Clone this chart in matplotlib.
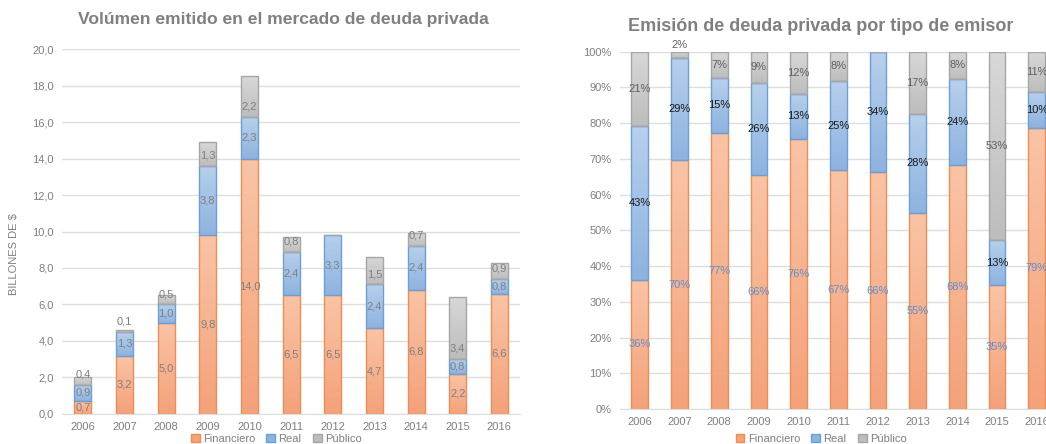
import matplotlib
matplotlib.use('Agg')
import matplotlib.pyplot as plt
import numpy as np
from matplotlib.colors import LinearSegmentedColormap
from matplotlib.patches import Patch

plt.rcParams['font.family'] = ['Liberation Sans', 'DejaVu Sans']

years = ["2006", "2007", "2008", "2009", "2010", "2011", "2012", "2013", "2014", "2015", "2016"]

# volumen en billones de $
financiero = [0.7, 3.2, 5.0, 9.8, 14.0, 6.5, 6.5, 4.7, 6.8, 2.2, 6.6]
real = [0.9, 1.3, 1.0, 3.8, 2.3, 2.4, 3.3, 2.4, 2.4, 0.8, 0.8]
publico = [0.4, 0.1, 0.5, 1.3, 2.2, 0.8, 0.0, 1.5, 0.7, 3.4, 0.9]

# participacion por tipo de emisor (%)
fin_pct = [36.2, 69.6, 77.3, 65.6, 75.6, 66.8, 66.3, 54.9, 68.4, 34.6, 78.7]
real_pct = [42.9, 28.7, 15.4, 25.7, 12.6, 25.1, 33.7, 27.8, 24.0, 12.8, 10.1]
pub_pct = [20.9, 1.7, 7.3, 8.7, 11.8, 8.1, 0.0, 17.3, 7.6, 52.6, 11.2]

series = ["Financiero", "Real", "Público"]
grad = {
    "Financiero": ("#f9c4a6", "#f4a27a", "#f08c55"),
    "Real": ("#b7d0ec", "#8eb3e0", "#6a9fd8"),
    "Público": ("#d8d8d8", "#bdbdbd", "#a6a6a6"),
}
grid_c = "#dedede"
text_c = "#7f7f7f"


def gradient_bars(ax, x, vals, bottom, name, width):
    top_c, bot_c, edge_c = grad[name]
    cmap = LinearSegmentedColormap.from_list(name, [bot_c, top_c])
    bars = ax.bar(x, vals, width=width, bottom=bottom, facecolor="none",
                  edgecolor=edge_c, linewidth=1.0, zorder=3)
    g = np.linspace(0, 1, 64).reshape(-1, 1)
    for r in bars:
        if r.get_height() <= 0:
            continue
        im = ax.imshow(g, cmap=cmap, origin="lower", aspect="auto",
                       extent=[r.get_x(), r.get_x() + r.get_width(),
                               r.get_y(), r.get_y() + r.get_height()],
                       zorder=2, interpolation="bilinear")
        im.set_clip_path(r)
    return bars


fig = plt.figure(figsize=(10.46, 4.44), dpi=100)

# ---- panel izquierdo
ax1 = fig.add_axes([0.0593, 0.0676, 0.438, 0.822])
x = np.arange(len(years))
w = 0.41
b1 = np.array(financiero)
b2 = b1 + np.array(real)
gradient_bars(ax1, x, financiero, 0, "Financiero", w)
gradient_bars(ax1, x, real, b1, "Real", w)
gradient_bars(ax1, x, publico, b2, "Público", w)

for i in x:
    ax1.text(i, financiero[i] / 2, f"{financiero[i]:.1f}".replace(".", ","),
             ha="center", va="center", fontsize=8, color=text_c, zorder=5)
    ax1.text(i, b1[i] + real[i] / 2, f"{real[i]:.1f}".replace(".", ","),
             ha="center", va="center", fontsize=8, color=text_c, zorder=5)
    if publico[i] > 0:
        ax1.text(i, b2[i] + 0.57, f"{publico[i]:.1f}".replace(".", ","),
                 ha="center", va="center", fontsize=8, color=text_c, zorder=5)

ax1.set_xlim(-0.5, len(years) - 0.5)
ax1.set_ylim(0, 20)
ax1.set_yticks(np.arange(0, 21, 2))
ax1.set_yticklabels([f"{v:.1f}".replace(".", ",") for v in np.arange(0, 21, 2)])
ax1.set_xticks(x)
ax1.set_xticklabels(years)
ax1.set_ylabel("BILLONES DE $", fontsize=8, color=text_c,
               family=['Liberation Sans Narrow', 'Liberation Sans'])
ax1.yaxis.set_label_coords(-0.095, 0.438)
ax1.set_title("Volúmen emitido en el mercado de deuda privada", fontsize=12.6,
              fontweight="bold", color="#808080", pad=18, x=0.483)

# ---- panel derecho
ax2 = fig.add_axes([0.5927, 0.0788, 0.4175, 0.8047])
w2 = 0.42
p1 = np.array(fin_pct)
p2 = p1 + np.array(real_pct)
gradient_bars(ax2, x, fin_pct, 0, "Financiero", w2)
gradient_bars(ax2, x, real_pct, p1, "Real", w2)
gradient_bars(ax2, x, pub_pct, p2, "Público", w2)

for i in x:
    ax2.text(i, fin_pct[i] / 2, f"{fin_pct[i]:.0f}%", ha="center", va="center",
             fontsize=8, color="#5b8fd0", zorder=5)
    ax2.text(i, p1[i] + real_pct[i] / 2, f"{real_pct[i]:.0f}%", ha="center",
             va="center", fontsize=8, color="#1a1a1a", zorder=5)
    if pub_pct[i] > 0:
        yy = p2[i] + pub_pct[i] / 2 if pub_pct[i] > 4 else 101.8
        ax2.text(i, yy, f"{pub_pct[i]:.0f}%", ha="center", va="center",
                 fontsize=8, color="#606060", zorder=5, clip_on=False)

ax2.set_xlim(-0.5, len(years) - 0.5)
ax2.set_ylim(0, 100)
ax2.set_yticks(np.arange(0, 101, 10))
ax2.set_yticklabels([f"{v}%" for v in range(0, 101, 10)])
ax2.set_xticks(x)
ax2.set_xticklabels(years)
ax2.set_title("Emisión de deuda privada por tipo de emisor", fontsize=13,
              fontweight="bold", color="#808080", pad=15, x=0.46)

for ax in (ax1, ax2):
    for s in ("top", "right", "left"):
        ax.spines[s].set_visible(False)
    ax.spines["bottom"].set_color(grid_c)
    ax.tick_params(length=0, labelsize=8, labelcolor=text_c, pad=6)
    ax.grid(axis="y", color=grid_c, linewidth=1.0, zorder=0)
    ax.set_axisbelow(True)

handles = [Patch(facecolor=grad[s][1], edgecolor=grad[s][2], label=s) for s in series]
fig.legend(handles=handles, loc="center", bbox_to_anchor=(0.264, 0.012), ncol=3,
           frameon=False, fontsize=8, handlelength=0.8, handleheight=0.8,
           handletextpad=0.3, columnspacing=1.0, labelcolor=text_c)
fig.legend(handles=handles, loc="center", bbox_to_anchor=(0.785, 0.012), ncol=3,
           frameon=False, fontsize=8, handlelength=0.8, handleheight=0.8,
           handletextpad=0.3, columnspacing=1.0, labelcolor=text_c)

plt.savefig("out.png", dpi=100)
